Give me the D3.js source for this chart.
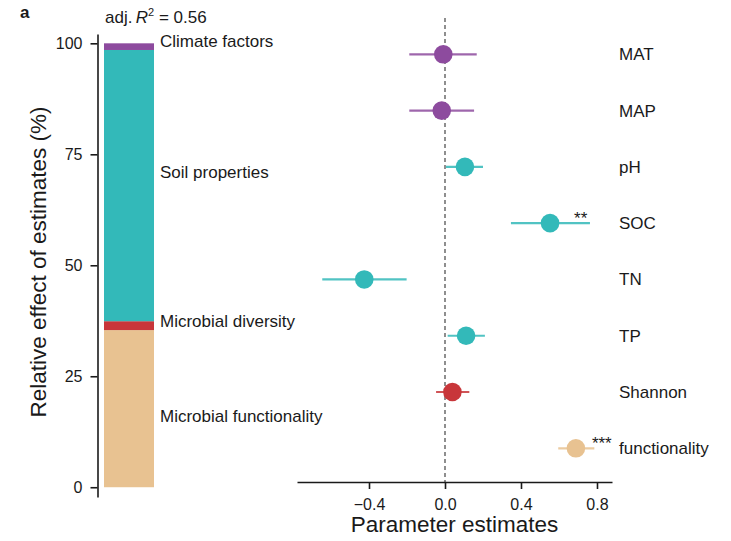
<!DOCTYPE html>
<html>
<head>
<meta charset="utf-8">
<script src="https://cdn.jsdelivr.net/npm/d3@7"></script>
<style>
  html, body { margin: 0; padding: 0; background: #fff; }
  svg { display: block; font-family: "Liberation Sans", Arial, sans-serif; }
</style>
</head>
<body>
<svg id="chart" width="731" height="541"></svg>
<script>
// Stacked relative contributions of each predictor group (%)
const groups = ["Microbial functionality", "Microbial diversity", "Soil properties", "Climate factors"];
const groupShares = [35.4, 2.0, 61.1, 1.5];
const groupColors = ["#E8C291", "#C8363A", "#33B9B9", "#8D4B9E"];
const groupLabelY = [16, 37.5, 70.9, 100.6]; // value position of each bar label

// Standardised parameter estimates with confidence intervals
const params = ["MAT", "MAP", "pH", "SOC", "TN", "TP", "Shannon", "functionality"];
const estimates = [-0.009, -0.017, 0.105, 0.553, -0.425, 0.111, 0.039, 0.689];
const lower = [-0.188, -0.188, 0.005, 0.347, -0.646, 0.014, -0.047, 0.596];
const upper = [0.167, 0.153, 0.200, 0.763, -0.202, 0.210, 0.128, 0.786];
const paramGroup = [3, 3, 2, 2, 2, 2, 1, 0];
const stars = ["", "", "", "**", "", "", "", "***"];

const yTicks = [0, 25, 50, 75, 100];
const xTicks = [-0.4, 0.0, 0.4, 0.8];

const svg = d3.select("#chart");
const ink = "#1a1a1a";

// ---------- Left panel: stacked bar ----------
const yL = d3.scaleLinear().domain([-2.2, 102.1]).range([497, 34]);
const barX0 = 104, barX1 = 154;

let acc = 0;
const stack = groupShares.map((v, i) => {
  const s = { lo: acc, hi: acc + v, color: groupColors[i], name: groups[i] };
  acc += v;
  return s;
});

svg.append("g").selectAll("rect").data(stack).join("rect")
  .attr("x", barX0)
  .attr("width", barX1 - barX0)
  .attr("y", d => yL(d.hi))
  .attr("height", d => yL(d.lo) - yL(d.hi))
  .attr("fill", d => d.color);

const yAxis = d3.axisLeft(yL).tickValues(yTicks).tickSize(7).tickPadding(8).tickSizeOuter(0);
const gy = svg.append("g").attr("transform", "translate(97.5,0)").call(yAxis);
gy.select(".domain").attr("stroke", ink).attr("stroke-width", 1.6);
gy.selectAll(".tick line").attr("stroke", ink).attr("stroke-width", 1.6);
gy.selectAll(".tick text").attr("fill", ink).style("font-size", "16px")
  .style("font-family", "'Liberation Sans', Arial, sans-serif");

svg.append("g").selectAll("text").data(groups).join("text")
  .attr("x", 160)
  .attr("y", (d, i) => yL(groupLabelY[i]))
  .attr("dy", "0.35em")
  .attr("fill", ink)
  .style("font-size", "17px")
  .text(d => d);

svg.append("text")
  .attr("transform", "translate(46,262) rotate(-90)")
  .attr("text-anchor", "middle")
  .attr("fill", ink)
  .style("font-size", "22.5px")
  .text("Relative effect of estimates (%)");

svg.append("text")
  .attr("x", 20).attr("y", 18)
  .attr("fill", ink)
  .style("font-size", "17px").style("font-weight", "bold")
  .text("a");

const r2 = svg.append("text")
  .attr("x", 105).attr("y", 23)
  .attr("fill", ink)
  .style("font-size", "17px");
r2.append("tspan").text("adj.\u2009");
r2.append("tspan").style("font-style", "italic").text("R");
r2.append("tspan").attr("dy", -7).style("font-size", "11px").text("2");
r2.append("tspan").attr("dy", 7).text(" = 0.56");

// ---------- Right panel: coefficient plot ----------
const x = d3.scaleLinear().domain([-0.779, 0.879]).range([297, 612]);
const y = d3.scalePoint().domain(params).range([54.3, 448.3]);

svg.append("line")
  .attr("x1", x(0)).attr("x2", x(0))
  .attr("y1", 18).attr("y2", 482)
  .attr("stroke", "#333").attr("stroke-width", 1.1)
  .attr("stroke-dasharray", "4,3");

// horizontal nudge for significance stars, relative to the point estimate
const starDx = { SOC: 24, functionality: 16 };

const rows = params.map((p, i) => ({
  p, est: estimates[i], lo: lower[i], hi: upper[i],
  color: groupColors[paramGroup[i]], star: stars[i]
}));

const gRows = svg.append("g");
gRows.selectAll("line").data(rows).join("line")
  .attr("x1", d => x(d.lo)).attr("x2", d => x(d.hi))
  .attr("y1", d => y(d.p)).attr("y2", d => y(d.p))
  .attr("stroke", d => d.color).attr("stroke-width", 2.2)
  .attr("stroke-opacity", 0.85);
gRows.selectAll("circle").data(rows).join("circle")
  .attr("cx", d => x(d.est)).attr("cy", d => y(d.p))
  .attr("r", 9.3)
  .attr("fill", d => d.color);
gRows.selectAll("text.star").data(rows.filter(d => d.star)).join("text")
  .attr("class", "star")
  .attr("x", d => x(d.est) + (starDx[d.p] || 12))
  .attr("y", d => y(d.p) + 1)
  .attr("fill", ink)
  .style("font-size", "17px")
  .text(d => d.star);

svg.append("g").selectAll("text").data(params).join("text")
  .attr("x", 619)
  .attr("y", d => y(d))
  .attr("dy", "0.35em")
  .attr("fill", ink)
  .style("font-size", "17px")
  .text(d => d);

const xAxis = d3.axisBottom(x).tickValues(xTicks).tickFormat(d3.format(".1f"))
  .tickSize(7).tickPadding(10).tickSizeOuter(0);
const gx = svg.append("g").attr("transform", "translate(0,482)").call(xAxis);
gx.select(".domain").attr("stroke", ink).attr("stroke-width", 1.6);
gx.selectAll(".tick line").attr("stroke", ink).attr("stroke-width", 1.6);
gx.selectAll(".tick text").attr("fill", ink).style("font-size", "16px")
  .style("font-family", "'Liberation Sans', Arial, sans-serif");

svg.append("text")
  .attr("x", 454.5).attr("y", 532)
  .attr("text-anchor", "middle")
  .attr("fill", ink)
  .style("font-size", "22.5px")
  .text("Parameter estimates");
</script>
</body>
</html>
